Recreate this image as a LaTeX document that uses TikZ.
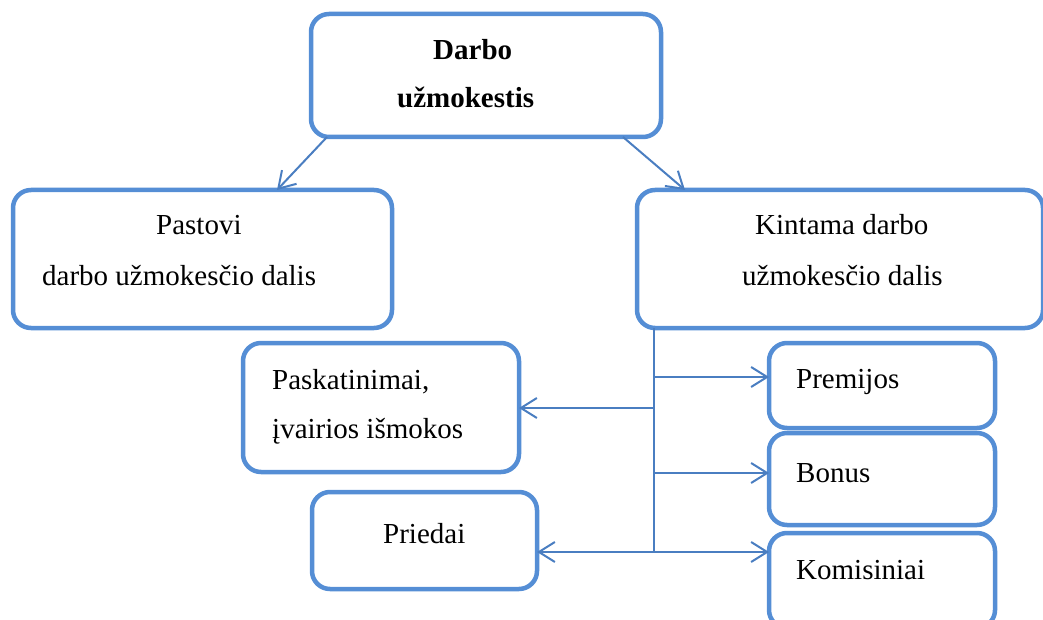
\documentclass[tikz,border=0pt]{standalone}
\usepackage{fontspec}
\setmainfont{Liberation Serif}
\usetikzlibrary{arrows.meta}
\definecolor{boxblue}{RGB}{85,142,213}
\definecolor{lineblue}{RGB}{74,126,193}
\begin{document}
\begin{tikzpicture}[x=1pt,y=-1pt,
  box/.style={draw=boxblue, line width=4.5pt, rounded corners=18pt, inner sep=0pt, outer sep=0pt, anchor=north west},
  lbl/.style={anchor=base west, inner sep=0pt, font=\fontsize{29}{35}\selectfont},
  conn/.style={draw=lineblue, line width=2pt},
  arr/.style={conn, -{Straight Barb[length=16pt,width=20pt]}}]
\useasboundingbox (0,0) rectangle (1043,620);
% boxes
\node[box, minimum width=350pt, minimum height=123pt] (top) at (311,14) {};
\node[box, minimum width=379pt, minimum height=138pt] (pastovi) at (13,190) {};
\node[box, minimum width=406pt, minimum height=138pt] (kint) at (637,190) {};
\node[box, minimum width=276pt, minimum height=129pt] (pask) at (243,343) {};
\node[box, minimum width=225pt, minimum height=97pt] (pried) at (312,492) {};
\node[box, minimum width=226pt, minimum height=85pt] (prem) at (769,343) {};
\node[box, minimum width=226pt, minimum height=92pt] (bonus) at (769,433) {};
\node[box, minimum width=226pt, minimum height=95pt] (kom) at (769,533) {};
% texts
\node[lbl, font=\fontsize{29}{35}\selectfont\bfseries] (t1) at (433,60) {Darbo};
\node[lbl, font=\fontsize{29}{35}\selectfont\bfseries] (t2) at (397,108) {užmokestis};
\node[lbl] (t3) at (156,235) {Pastovi};
\node[lbl] (t4) at (42,285) {darbo užmokesčio dalis};
\node[lbl] (t5) at (755,235) {Kintama darbo};
\node[lbl] (t6) at (742,285) {užmokesčio dalis};
\node[lbl] (t7) at (272,389) {Paskatinimai,};
\node[lbl] (t8) at (272,438) {įvairios išmokos};
\node[lbl] (t9) at (383,543) {Priedai};
\node[lbl] (t10) at (796,388) {Premijos};
\node[lbl] (t11) at (796,482) {Bonus};
\node[lbl] (t12) at (796,579) {Komisiniai};
% connectors
\draw[arr] (327,0 |- top.south) -- (277,0 |- pastovi.north);
\draw[arr] (623,0 |- top.south) -- (685,0 |- kint.north);
\coordinate (j) at (654,552);
\draw[conn] (654,0 |- kint.south) -- (j);
\draw[arr] (654,408) -- (pask.east |- 0,408);
\draw[arr] (j) -- (pried.east |- j);
\draw[arr] (654,377) -- (prem.west |- 0,377);
\draw[arr] (654,473) -- (bonus.west |- 0,473);
\draw[arr] (j) -- (kom.west |- j);
\end{tikzpicture}
\end{document}
